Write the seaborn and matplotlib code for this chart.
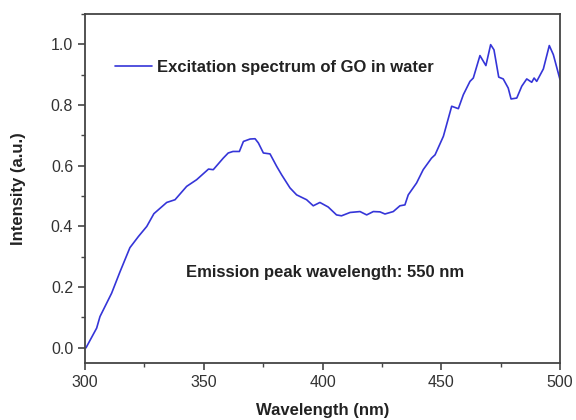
import matplotlib
matplotlib.use("Agg")
import matplotlib.pyplot as plt
import seaborn as sns
import pandas as pd
from matplotlib.ticker import MultipleLocator

wavelength = [300.4, 304.9, 306.3, 311.2, 314.7, 318.9, 322.5, 326.0, 329.0, 334.4,
              337.9, 342.8, 347.0, 352.0, 354.0, 358.2, 360.3, 362.3, 365.0, 366.7,
              369.5, 371.6, 373.0, 375.1, 377.9, 380.7, 382.8, 386.3, 389.1, 393.3,
              396.1, 398.9, 402.4, 405.9, 408.0, 411.6, 415.8, 418.6, 421.4, 424.2,
              426.3, 429.8, 432.6, 434.7, 436.1, 439.6, 442.4, 445.9, 447.4, 450.9,
              454.4, 457.2, 459.3, 462.1, 463.5, 466.3, 468.8, 470.8, 472.2, 474.2,
              476.1, 478.2, 479.4, 481.8, 483.9, 486.0, 488.1, 489.1, 490.2, 493.0,
              495.5, 497.2, 500.0]
intensity = [0.000, 0.065, 0.103, 0.180, 0.250, 0.330, 0.367, 0.400, 0.442, 0.479,
             0.488, 0.532, 0.554, 0.589, 0.587, 0.625, 0.642, 0.647, 0.647, 0.680,
             0.688, 0.689, 0.675, 0.642, 0.639, 0.598, 0.570, 0.527, 0.504, 0.488,
             0.468, 0.479, 0.464, 0.438, 0.435, 0.446, 0.449, 0.438, 0.449, 0.448,
             0.441, 0.449, 0.468, 0.471, 0.504, 0.543, 0.587, 0.625, 0.636, 0.697,
             0.796, 0.788, 0.834, 0.878, 0.889, 0.963, 0.930, 0.999, 0.982, 0.892,
             0.886, 0.856, 0.820, 0.823, 0.862, 0.886, 0.875, 0.889, 0.878, 0.919,
             0.996, 0.966, 0.884]
series_label = "Excitation spectrum of GO in water"
annotation = "Emission peak wavelength: 550 nm"
x_ticks = [300, 350, 400, 450, 500]
y_ticks = [0.0, 0.2, 0.4, 0.6, 0.8, 1.0]

df = pd.DataFrame({"Wavelength": wavelength, "Intensity": intensity})

sns.set_style("ticks")
plt.rcParams["font.family"] = ["Liberation Sans", "DejaVu Sans"]

fig = plt.figure(figsize=(5.76, 4.2), dpi=100)
ax = fig.add_axes([0.1476, 0.1357, 0.8246, 0.831])

sns.lineplot(data=df, x="Wavelength", y="Intensity", ax=ax, color="#3535d8",
             linewidth=1.2, label=series_label)

ax.set_xlim(300, 500)
ax.set_ylim(-0.05, 1.1)
ax.set_xticks(x_ticks)
ax.set_yticks(y_ticks)
ax.set_yticklabels([f"{v:.1f}" for v in y_ticks])
ax.xaxis.set_minor_locator(MultipleLocator(25))
ax.yaxis.set_minor_locator(MultipleLocator(0.1))

for s in ax.spines.values():
    s.set_color("#444444")
    s.set_linewidth(1.3)

ax.tick_params(axis="both", which="major", direction="out", length=5, width=1.2,
               colors="#444444", labelsize=11.5, labelcolor="#333333",
               top=False, right=False)
ax.tick_params(axis="both", which="minor", direction="out", length=3, width=1.0,
               colors="#444444", top=False, right=False)

ax.set_xlabel("Wavelength (nm)", fontsize=12, fontweight="bold", color="#222222")
ax.set_ylabel("Intensity (a.u.)", fontsize=12, fontweight="bold", color="#222222")
ax.xaxis.set_label_coords(0.5, -0.115)
ax.yaxis.set_label_coords(-0.125, 0.5)

leg = ax.legend(loc="center left", bbox_to_anchor=(0.063, 0.848), frameon=False,
                borderpad=0, borderaxespad=0,
                handlelength=2.2, handletextpad=0.3,
                prop={"weight": "bold", "size": 12})
for t in leg.get_texts():
    t.set_color("#222222")

ax.text(401, 0.247, annotation, ha="center", va="center", fontsize=12,
        fontweight="bold", color="#222222")

fig.savefig("out.png", dpi=100)
